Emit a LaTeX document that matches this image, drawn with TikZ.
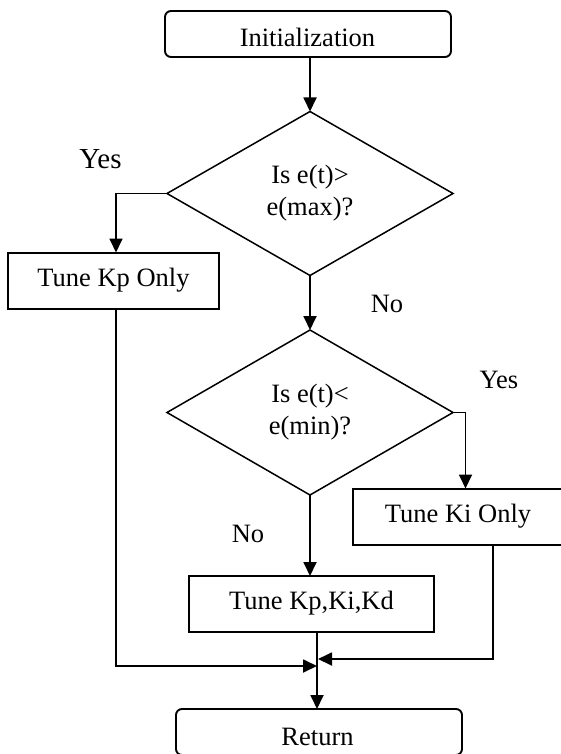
\documentclass[tikz,border=0pt]{standalone}
\usepackage{fontspec}
\setmainfont{Liberation Serif}
\usetikzlibrary{shapes.geometric,arrows.meta}
\begin{document}
\begin{tikzpicture}[x=1pt,y=-1pt,
  txt/.style={font=\fontsize{26.5}{32}\selectfont, inner sep=0pt},
  bigtxt/.style={font=\fontsize{29}{34}\selectfont, inner sep=0pt},
  pbox/.style={draw, line width=2pt, inner sep=0pt, outer sep=0pt, minimum height=56pt,
     font=\fontsize{26.5}{32}\selectfont, text height=18pt, text depth=7pt},
  rbox/.style={draw, line width=1.9pt, rounded corners=6pt, inner sep=0pt, outer sep=0pt,
     minimum width=286pt, minimum height=46pt},
  dec/.style={draw, diamond, line width=1.5pt, inner sep=0pt, outer sep=0pt,
     minimum width=286pt, align=center, font=\fontsize{26.5}{32}\selectfont},
  arr/.style={line width=1.8pt, -{Triangle[length=14pt,width=13pt]}},
  ln/.style={line width=1.8pt}]
\useasboundingbox (0,0) rectangle (560,754);
% nodes
\node[rbox] (init) at (308,34) {};
\begin{scope}
  \clip (165,11) rectangle (451,46.5);
  \node[txt, anchor=base] (inittxt) at (307.5,47) {Initialization};
\end{scope}
\node[dec, minimum height=164pt] (d1) at (310,193.5) {Is e(t)>\\e(max)?};
\node[pbox, minimum width=211pt] (kp) at (113.5,280.5) {Tune Kp Only};
\node[dec, minimum height=165pt] (d2) at (310,412.5) {Is e(t)<\\e(min)?};
\node[pbox, minimum width=210pt] (ki) at (458,516.5) {Tune Ki Only};
\node[pbox, minimum width=245pt] (kpid) at (311.5,604) {Tune Kp,Ki,Kd};
\node[rbox] (ret) at (319,732) {};
\node[txt, anchor=base] (rettxt) at (317.5,745) {Return};
% labels
\node[bigtxt, anchor=base] (yes1) at (100.5,168) {Yes};
\node[txt, anchor=base] (no1) at (387,312) {No};
\node[txt, anchor=base] (yes2) at (499,388) {Yes};
\node[txt, anchor=base] (no2) at (248,542) {No};
% junction coordinates
\coordinate (jl) at (317,666);
\coordinate (jr) at (318,659);
% connectors
\draw[arr] (init.south -| d1.north) -- (d1.north);
\draw[arr] (d1.west) -| ([xshift=2.5pt]kp.north);
\draw[arr] (d1.south) -- (d2.north);
\draw[arr] (d2.east) -| ([xshift=7.5pt]ki.north);
\draw[arr] (d2.south) -- (d2.south |- kpid.north);
\draw[arr] ([xshift=2.5pt]kp.south) |- (jl);
\draw[arr] ([xshift=35pt]ki.south) |- (jr);
\draw[arr] (kpid.south -| jl) -- (ret.north -| jl);
\end{tikzpicture}
\end{document}
